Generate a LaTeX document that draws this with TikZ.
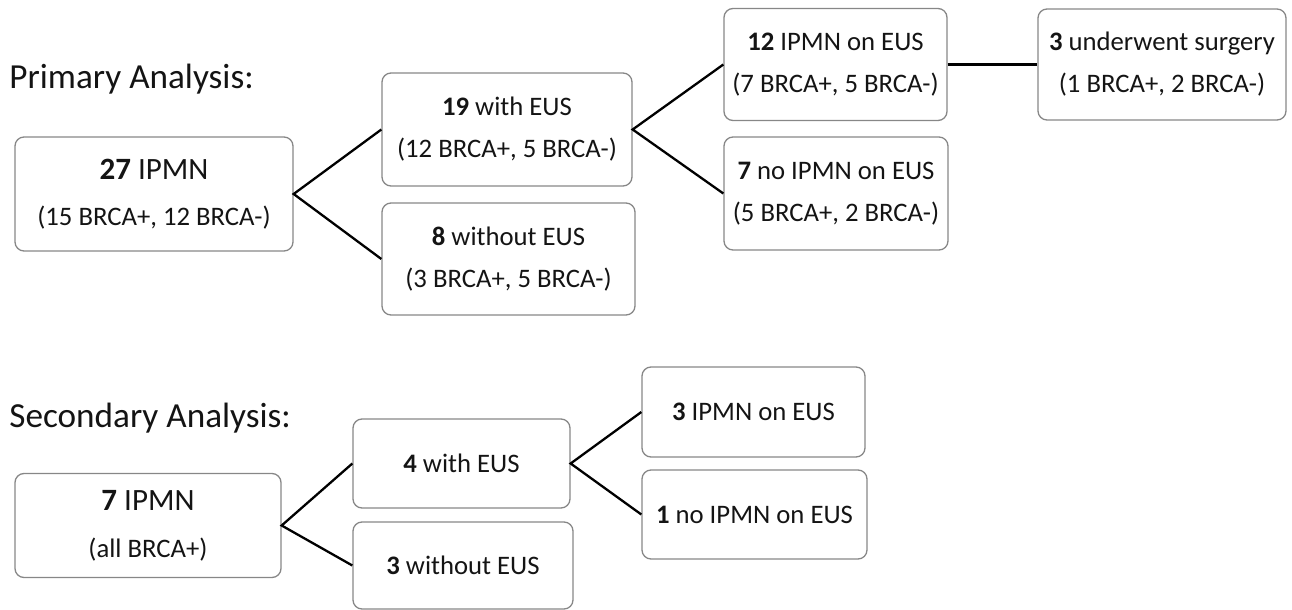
\documentclass[tikz,border=0pt]{standalone}
\usepackage{fontspec}
\setmainfont{Carlito}
\definecolor{boxgray}{RGB}{135,135,135}
\definecolor{ink}{RGB}{20,20,20}
\begin{document}
\begin{tikzpicture}[x=0.5pt,y=-0.5pt,
  box/.style={draw=boxgray, line width=0.65pt, rounded corners=4.5pt, inner sep=0pt,
    align=center, text=ink, font=\fontsize{13.35}{21}\selectfont},
  bigbox/.style={box, font=\fontsize{13.35}{23}\selectfont},
  title/.style={anchor=base west, inner sep=0pt, text=ink, font=\fontsize{17.6}{20}\selectfont},
  link/.style={draw=black, line width=1.15pt}]
\useasboundingbox (0,0) rectangle (1292,610);

% Primary analysis
\node[title] (t1) at (9,89) {Primary Analysis:};
\node[bigbox, minimum width=139pt, minimum height=57pt] (A) at (154,194)
  {{\fontsize{15.5}{23}\selectfont\textbf{27} IPMN}\\(15 BRCA+, 12 BRCA-)};
\node[box, minimum width=125pt, minimum height=56.5pt] (B) at (507,129.5)
  {\textbf{19} with EUS\\(12 BRCA+, 5 BRCA-)};
\node[box, minimum width=126.5pt, minimum height=56pt] (C) at (508.5,259)
  {\textbf{8} without EUS\\(3 BRCA+, 5 BRCA-)};
\node[box, minimum width=111.5pt, minimum height=56pt] (D) at (835.5,64.5)
  {\textbf{12} IPMN on EUS\\(7 BRCA+, 5 BRCA-)};
\node[box, minimum width=112pt, minimum height=56.5pt] (E) at (836,193.5)
  {\textbf{7} no IPMN on EUS\\(5 BRCA+, 2 BRCA-)};
\node[box, minimum width=124pt, minimum height=55.5pt] (F) at (1162,64.5)
  {\textbf{3} underwent surgery\\(1 BRCA+, 2 BRCA-)};

\draw[link] (B.west) -- (A.east) -- (C.west);
\draw[link] (D.west) -- (B.east) -- (E.west);
\draw[link] (D.east) -- (D.east -| F.west);

% Secondary analysis
\node[title] (t2) at (9,427) {Secondary Analysis:};
\node[box, font=\fontsize{13.35}{23.5}\selectfont, minimum width=133pt, minimum height=52pt] (A2) at (148,525.5)
  {{\fontsize{15.5}{23.5}\selectfont\textbf{7} IPMN}\\(all BRCA+)};
\node[box, minimum width=108.5pt, minimum height=44.5pt] (B2) at (461.5,463.5)
  {\textbf{4} with EUS};
\node[box, minimum width=110pt, minimum height=43.5pt] (C2) at (463,565.5)
  {\textbf{3} without EUS};
\node[box, minimum width=111.5pt, minimum height=45pt] (D2) at (753.5,412)
  {\textbf{3} IPMN on EUS};
\node[box, minimum width=112.5pt, minimum height=44.5pt] (E2) at (754.5,514.5)
  {\textbf{1} no IPMN on EUS};

\draw[link] (B2.west) -- (A2.east) -- (C2.west);
\draw[link] (D2.west) -- (B2.east) -- (E2.west);
\end{tikzpicture}
\end{document}
